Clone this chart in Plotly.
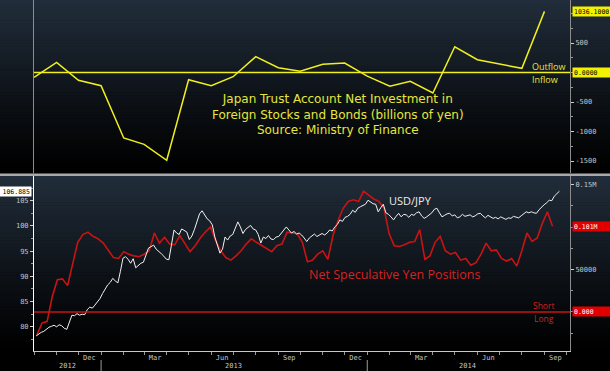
import plotly.graph_objects as go
import pandas as pd

W, H = 610, 371

# ---------------- data ----------------
# Top panel: Japan trust account net investment in foreign stocks & bonds (billions of yen), monthly
trust_months = pd.date_range("2012-10-01", periods=24, freq="MS")
trust_values = [-81, 173, -132, -224, -1110, -1217, -1488, -122, -224, -71, 268, 81,
                20, 139, 161, -60, -232, -149, -347, 437, 217, 140, 71, 1036.1]

# Bottom panel: USD/JPY (sampled every 3.5 days)
usdjpy_dates = pd.date_range("2012-10-04", periods=206, freq="84h")
usdjpy = [78.2, 78.6, 78.9, 79.1, 79.6, 79.9, 80.1, 80.3, 80.0, 80.4,
          80.2, 79.7, 79.5, 80.8, 82.3, 82.2, 82.6, 82.3, 82.5, 82.4,
          83.4, 83.9, 83.7, 84.3, 84.9, 85.6, 86.6, 87.6, 88.3, 88.8,
          89.6, 89.1, 88.7, 91.0, 93.6, 93.9, 93.4, 92.6, 93.5, 91.7,
          92.2, 92.6, 92.8, 94.2, 95.6, 95.9, 96.2, 95.4, 95.0, 94.5,
          94.0, 93.4, 93.3, 96.5, 99.2, 98.6, 98.3, 99.4, 99.1, 98.8,
          97.3, 98.0, 99.3, 100.8, 102.4, 103.0, 102.3, 101.4, 101.0, 100.2,
          97.8, 96.4, 94.6, 95.4, 97.8, 97.2, 98.0, 98.3, 99.6, 100.8,
          99.8, 98.5, 99.3, 99.8, 100.1, 99.4, 99.2, 98.3, 96.6, 97.8,
          97.5, 98.1, 97.4, 97.3, 97.8, 97.9, 98.6, 99.2, 99.8, 99.2,
          98.6, 98.9, 98.4, 98.6, 98.2, 97.6, 96.9, 97.6, 98.0, 98.4,
          97.9, 98.2, 98.5, 98.2, 98.6, 99.2, 99.0, 99.8, 100.3, 101.2,
          100.9, 101.7, 101.9, 102.3, 103.1, 102.7, 103.5, 103.8, 104.0, 104.3,
          105.1, 104.8, 104.4, 104.3, 102.8, 103.6, 104.3, 102.6, 102.3, 101.8,
          101.2, 101.9, 102.5, 101.8, 102.3, 102.2, 101.7, 102.3, 102.1, 102.6,
          102.8, 102.0, 101.5, 101.8, 102.2, 102.6, 103.3, 103.5, 102.6, 101.8,
          102.1, 102.4, 102.5, 102.0, 102.2, 101.6, 101.8, 102.3, 101.9, 102.1,
          102.2, 101.8, 102.0, 102.4, 102.5, 102.0, 101.6, 102.1, 101.8, 101.5,
          101.7, 101.4, 101.8, 101.6, 101.3, 101.6, 101.5, 101.9, 101.7, 101.6,
          102.0, 102.5, 102.8, 102.6, 102.8, 102.6, 102.5, 103.2, 103.8, 104.2,
          104.6, 105.1, 105.0, 105.9, 106.4, 106.885]

# Bottom panel: net speculative yen positions (thousands of contracts), weekly
spec_dates = pd.date_range("2012-10-05", periods=102, freq="7D")
spec_thousands = [-27, -13, -11, 18, 38, 39, 31, 55, 82, 91,
                  94, 89, 86, 81, 72, 64, 63, 71, 68, 66,
                  65, 68, 72, 93, 81, 88, 80, 79, 90, 81,
                  71, 78, 87, 94, 100, 84, 72, 64, 61, 66,
                  72, 80, 86, 82, 78, 74, 71, 78, 80, 94,
                  93, 92, 82, 59, 61, 68, 72, 62, 90, 108,
                  122, 130, 132, 130, 142, 137, 133, 130, 122, 92,
                  78, 77, 79, 82, 83, 97, 62, 66, 82, 89,
                  72, 68, 70, 61, 63, 55, 58, 68, 81, 72,
                  73, 63, 60, 63, 54, 72, 93, 83, 87, 104,
                  118, 101]
spec = [v * 1000 for v in spec_thousands]

month_tick_dates = ["2012-12-16", "2013-03-16", "2013-06-16", "2013-09-16",
                    "2013-12-16", "2014-03-16", "2014-06-16", "2014-09-16"]
month_tick_text = ["Dec", "Mar", "Jun", "Sep", "Dec", "Mar", "Jun", "Sep"]
year_label_dates = ["2012-11-16", "2013-07-02", "2014-05-18"]
year_labels = ["2012", "2013", "2014"]
year_breaks = ["2013-01-01", "2014-01-01"]

x_range = ["2012-10-01", "2014-10-06"]


def px(x):
    return x / W


def py(y):
    return (H - y) / H


TICK_FONT = dict(family="DejaVu Sans Mono", size=7, color="#c4c4c4")
YELLOW = "#f0f01e"
RED = "#c81414"

fig = go.Figure()
fig.add_trace(go.Scatter(x=trust_months, y=trust_values, mode="lines",
                         line=dict(color=YELLOW, width=1.5),
                         xaxis="x", yaxis="y", hoverinfo="skip"))
fig.add_trace(go.Scatter(x=spec_dates, y=spec, mode="lines",
                         line=dict(color=RED, width=1.6),
                         xaxis="x2", yaxis="y2", hoverinfo="skip"))
fig.add_trace(go.Scatter(x=usdjpy_dates, y=usdjpy, mode="lines",
                         line=dict(color="#f2f2f2", width=1),
                         xaxis="x2", yaxis="y3", hoverinfo="skip"))

xdom = [px(34), px(570)]
top_dom = [py(173), 1.0]
bot_dom = [py(351), py(176)]

shapes = []


def grad(y_top, y_bot, n=60):
    c0 = (33, 45, 58)
    for k in range(n):
        t = k / (n - 1)
        c = tuple(int(round(c0[i] * (1 - t) ** 1.1)) for i in range(3))
        ya = y_top + (y_bot - y_top) * k / n
        yb = y_top + (y_bot - y_top) * (k + 1) / n + 0.6
        shapes.append(dict(type="rect", xref="paper", yref="paper", x0=0, x1=1,
                           y0=py(yb), y1=py(ya), line=dict(width=0),
                           fillcolor="rgb(%d,%d,%d)" % c, layer="below"))


grad(0, 173)
grad(176, 351)

# panel separator
shapes.append(dict(type="line", xref="paper", yref="paper", x0=0, x1=1,
                   y0=py(174.7), y1=py(174.7), line=dict(color="#a8a8a8", width=2.5)))
# left border top panel
shapes.append(dict(type="line", xref="paper", yref="paper", x0=px(33.5), x1=px(33.5),
                   y0=py(173.5), y1=1, line=dict(color="#8c8c8c", width=1)))
# zero lines
shapes.append(dict(type="line", xref="x domain", yref="y", x0=0, x1=1, y0=0, y1=0,
                   line=dict(color=YELLOW, width=1.5)))
shapes.append(dict(type="line", xref="x2 domain", yref="y2", x0=0, x1=1, y0=0, y1=0,
                   line=dict(color=RED, width=1.5)))
# year separators
for d in year_breaks:
    shapes.append(dict(type="line", xref="x2", yref="paper", x0=d, x1=d,
                       y0=0, y1=py(360), line=dict(color="#9a9a9a", width=1)))

annotations = []
SANS = "Open Sans"


def label(text, x, y, size, color, family=SANS, xanchor="center"):
    annotations.append(dict(xref="paper", yref="paper", x=px(x), y=py(y),
                            xanchor=xanchor, yanchor="middle", text=text,
                            showarrow=False, align="center",
                            font=dict(family=family, size=size, color=color)))


label("Japan Trust Account Net Investment in<br>"
      "Foreign Stocks and Bonds (billions of yen)<br>"
      "Source: Ministry of Finance", 338, 115, 12, "#e6e63c", family="DejaVu Sans")
label("Outflow", 530, 66, 9, "#e6e63c", xanchor="left")
label("Inflow", 530, 79.5, 9, "#e6e63c", xanchor="left")
label("USD/JPY", 411, 200, 11, "#ececec")
label("Net Speculative Yen Positions", 394, 274, 12.5, "#d42222")
label("Short", 531, 305.5, 8.5, "#d42222", xanchor="left")
label("Long", 532, 318, 8.5, "#d42222", xanchor="left")


def box(text, y, yref, bg, fg, x, xanchor, width):
    annotations.append(dict(xref="paper", yref=yref, x=x, y=y, xanchor=xanchor,
                            yanchor="middle", text=text, showarrow=False,
                            bgcolor=bg, borderpad=1, width=width, height=7,
                            align="left" if xanchor == "left" else "right",
                            font=dict(family="DejaVu Sans Mono", size=6.5, color=fg)))


box("1036.1000", trust_values[-1], "y", "#f2f200", "#000000", px(572), "left", 35)
box("0.0000", 0, "y", "#f2f200", "#000000", px(572), "left", 35)
box("0.101M", spec[-1], "y2", "#e00000", "#ffffff", px(572), "left", 35)
box("0.000", 0, "y2", "#e00000", "#ffffff", px(572), "left", 35)
box("106.885", usdjpy[-1], "y3", "#ffffff", "#000000", px(32), "right", 29)

for d, t in zip(year_label_dates, year_labels):
    annotations.append(dict(xref="x2", yref="paper", x=d, y=py(366), text=t,
                            xanchor="center", yanchor="middle",
                            showarrow=False, font=TICK_FONT))

fig.update_layout(
    width=W, height=H,
    margin=dict(l=0, r=0, t=0, b=0),
    paper_bgcolor="#000000", plot_bgcolor="rgba(0,0,0,0)",
    showlegend=False,
    shapes=shapes, annotations=annotations,
    xaxis=dict(domain=xdom, range=x_range, anchor="y", showticklabels=False,
               automargin=False,
               showgrid=False, zeroline=False, showline=False, ticks=""),
    xaxis2=dict(domain=xdom, range=x_range, anchor="y2", matches="x",
                automargin=False,
                showgrid=False, zeroline=False, showline=True, linecolor="#c8c8c8",
                linewidth=1, tickmode="array", tickvals=month_tick_dates,
                ticktext=month_tick_text, ticks="", tickfont=TICK_FONT,
                minor=dict(ticks="outside", dtick="M1", tick0="2012-10-01",
                           ticklen=3, tickcolor="#9a9a9a", showgrid=False)),
    yaxis=dict(domain=top_dom, range=[-1703, 1229], side="right", anchor="x",
               automargin=False,
               showgrid=False, zeroline=False, showline=True, linecolor="#8c8c8c",
               tickmode="array", tickvals=[500, -500, -1000, -1500],
               ticktext=["500", "-500", "-1000", "-1500"],
               ticks="outside", ticklen=3, tickcolor="#d0d0d0", tickfont=TICK_FONT,
               minor=dict(ticks="outside", dtick=250, tick0=0, ticklen=2,
                          tickcolor="#9a9a9a", showgrid=False)),
    yaxis2=dict(domain=bot_dom, range=[-45900, 160000], side="right", anchor="x2",
                automargin=False,
                showgrid=False, zeroline=False, showline=True, linecolor="#8c8c8c",
                tickmode="array", tickvals=[50000, 150000],
                ticktext=["50000", "0.15M"],
                ticks="outside", ticklen=3, tickcolor="#d0d0d0", tickfont=TICK_FONT,
                minor=dict(ticks="outside", dtick=25000, tick0=0, ticklen=2,
                           tickcolor="#9a9a9a", showgrid=False)),
    yaxis3=dict(range=[75.2, 109.9], side="left", overlaying="y2", anchor="x2",
                automargin=False,
                showgrid=False, zeroline=False, showline=True, linecolor="#ffffff",
                tickmode="array", tickvals=[80, 85, 90, 95, 100, 105],
                ticks="outside", ticklen=3, tickcolor="#d0d0d0", tickfont=TICK_FONT,
                minor=dict(ticks="outside", dtick=2.5, tick0=0, ticklen=2,
                           tickcolor="#9a9a9a", showgrid=False)),
)

fig.write_html("out.html",
               config={"displayModeBar": False},
               post_script="document.body.style.margin='0px';"
                           "document.body.style.padding='0px';"
                           "document.body.style.background='#000';")
